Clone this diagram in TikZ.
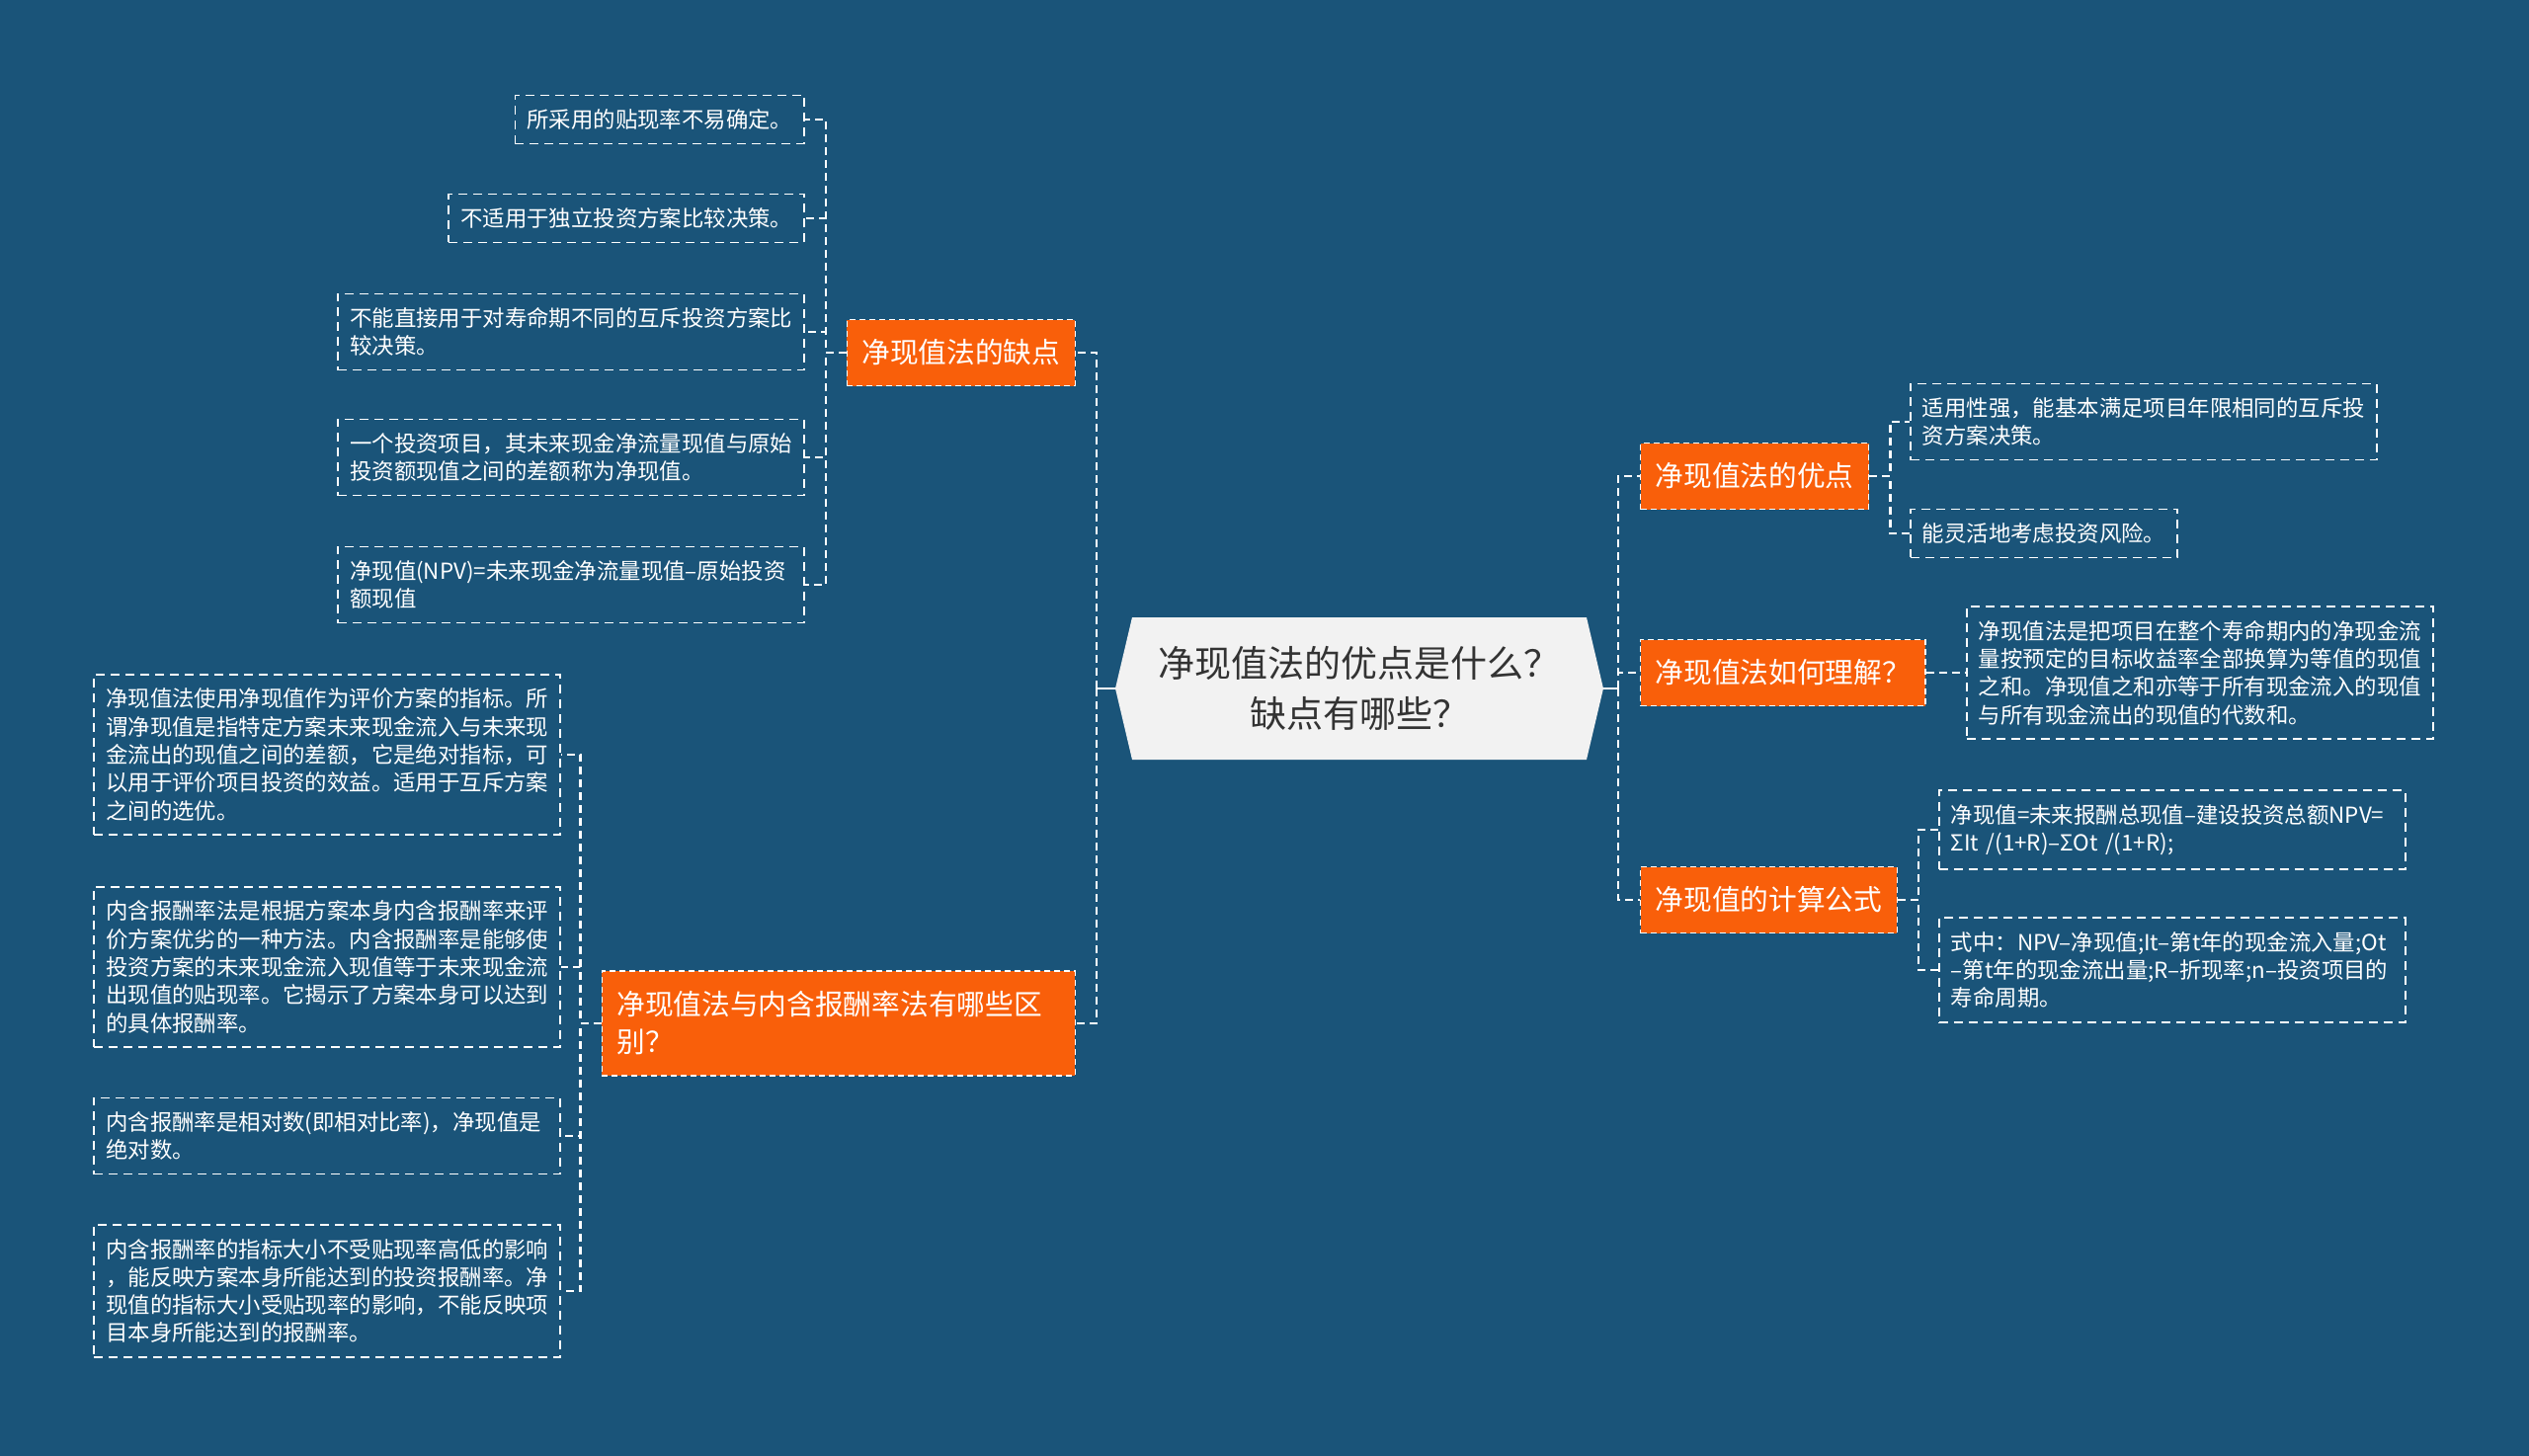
\documentclass[tikz,border=0pt]{standalone}
\usepackage{fontspec}
\setmainfont{Noto Sans CJK SC}
\definecolor{bgblue}{HTML}{1A5479}
\definecolor{topicorange}{HTML}{F95F0A}
\definecolor{hubgray}{HTML}{F2F2F2}
\definecolor{hubtext}{HTML}{333333}
\begin{document}
\begin{tikzpicture}[x=1pt,y=-1pt]
  \tikzset{
    hub/.style={minimum width=494pt, minimum height=144pt, align=center, text=hubtext,
      font=\fontsize{37}{51}\selectfont,
      path picture={\fill[hubgray] (path picture bounding box.west) -- ([xshift=17pt]path picture bounding box.north west)
        -- ([xshift=-17pt]path picture bounding box.north east) -- (path picture bounding box.east)
        -- ([xshift=-17pt]path picture bounding box.south east) -- ([xshift=17pt]path picture bounding box.south west) -- cycle;}},
    topic/.style={fill=topicorange, draw=white, line width=1.4pt, dash pattern=on 6pt off 4pt, text=white,
      minimum height=67pt, inner xsep=15pt, font=\fontsize{28.7}{38}\selectfont},
    leaf/.style={draw=white, line width=1.6pt, dash pattern=on 9pt off 6pt, text=white, align=left,
      inner xsep=12pt, inner ysep=14pt, font=\fontsize{22.4}{28.3}\selectfont},
    wideleaf/.style={leaf, text width=448pt},
    conn/.style={draw=white, line width=2.4pt, dash pattern=on 8pt off 5pt},
    stub/.style={draw=white, line width=2.4pt}
  }
  \fill[bgblue] (0,0) rectangle (2560,1474);
  \node[hub] (hub) at (1376,697) {净现值法的优点是什么？\\缺点有哪些？};
  \node[topic, anchor=east] (lack) at (1089,357) {净现值法的缺点};
  \node[topic, anchor=east, text width=449pt, align=left, minimum height=106pt] (diff) at (1089,1036) {净现值法与内含报酬率法有哪些区\\别？};
  \node[topic, anchor=west] (pros) at (1660,482) {净现值法的优点};
  \node[topic, anchor=west] (know) at (1660,681) {净现值法如何理解？};
  \node[topic, anchor=west] (calc) at (1660,911) {净现值的计算公式};
  \node[leaf, anchor=east] (lack1) at (815,121) {所采用的贴现率不易确定。};
  \node[leaf, anchor=east] (lack2) at (815,221) {不适用于独立投资方案比较决策。};
  \node[wideleaf, anchor=east] (lack3) at (815,336) {不能直接用于对寿命期不同的互斥投资方案比\\较决策。};
  \node[wideleaf, anchor=east] (lack4) at (815,463) {一个投资项目，其未来现金净流量现值与原始\\投资额现值之间的差额称为净现值。};
  \node[wideleaf, anchor=east] (lack5) at (815,592) {净现值(NPV)=未来现金净流量现值–原始投资\\额现值};
  \node[wideleaf, anchor=east] (diff1) at (568,764) {净现值法使用净现值作为评价方案的指标。所\\谓净现值是指特定方案未来现金流入与未来现\\金流出的现值之间的差额，它是绝对指标，可\\以用于评价项目投资的效益。适用于互斥方案\\之间的选优。};
  \node[wideleaf, anchor=east] (diff2) at (568,979) {内含报酬率法是根据方案本身内含报酬率来评\\价方案优劣的一种方法。内含报酬率是能够使\\投资方案的未来现金流入现值等于未来现金流\\出现值的贴现率。它揭示了方案本身可以达到\\的具体报酬率。};
  \node[wideleaf, anchor=east] (diff3) at (568,1150) {内含报酬率是相对数(即相对比率)，净现值是\\绝对数。};
  \node[wideleaf, anchor=east] (diff4) at (568,1307) {内含报酬率的指标大小不受贴现率高低的影响\\，能反映方案本身所能达到的投资报酬率。净\\现值的指标大小受贴现率的影响，不能反映项\\目本身所能达到的报酬率。};
  \node[wideleaf, anchor=west] (pros1) at (1933,427) {适用性强，能基本满足项目年限相同的互斥投\\资方案决策。};
  \node[leaf, anchor=west] (pros2) at (1933,540) {能灵活地考虑投资风险。};
  \node[wideleaf, anchor=west] (know1) at (1990,681) {净现值法是把项目在整个寿命期内的净现金流\\量按预定的目标收益率全部换算为等值的现值\\之和。净现值之和亦等于所有现金流入的现值\\与所有现金流出的现值的代数和。};
  \node[wideleaf, anchor=west] (calc1) at (1962,840) {净现值=未来报酬总现值–建设投资总额NPV=\\ΣIt /(1+R)–ΣOt /(1+R);};
  \node[wideleaf, anchor=west] (calc2) at (1962,982) {式中：NPV–净现值;It–第t年的现金流入量;Ot\\–第t年的现金流出量;R–折现率;n–投资项目的\\寿命周期。};
  \draw[stub] (hub.west) -- ++(-19,0);
  \draw[stub] (hub.east) -- ++(15,0);
  \draw[conn] ([xshift=-19pt]hub.west) |- (lack.east);
  \draw[conn] ([xshift=-19pt]hub.west) |- (diff.east);
  \draw[conn] ([xshift=15pt]hub.east) |- (pros.west);
  \draw[conn] ([xshift=15pt]hub.east) |- (know.west);
  \draw[conn] ([xshift=15pt]hub.east) |- (calc.west);
  \draw[conn] (lack.west) -- ++(-21,0) |- (lack1.east);
  \draw[conn] (lack.west) -- ++(-21,0) |- (lack2.east);
  \draw[conn] (lack.west) -- ++(-21,0) |- (lack3.east);
  \draw[conn] (lack.west) -- ++(-21,0) |- (lack4.east);
  \draw[conn] (lack.west) -- ++(-21,0) |- (lack5.east);
  \draw[conn] (diff.west) -- ++(-21,0) |- (diff1.east);
  \draw[conn] (diff.west) -- ++(-21,0) |- (diff2.east);
  \draw[conn] (diff.west) -- ++(-21,0) |- (diff3.east);
  \draw[conn] (diff.west) -- ++(-21,0) |- (diff4.east);
  \draw[conn] (pros.east) -- ++(21,0) |- (pros1.west);
  \draw[conn] (pros.east) -- ++(21,0) |- (pros2.west);
  \draw[conn] (know.east) -- (know1.west);
  \draw[conn] (calc.east) -- ++(21,0) |- (calc1.west);
  \draw[conn] (calc.east) -- ++(21,0) |- (calc2.west);
\end{tikzpicture}
\end{document}
